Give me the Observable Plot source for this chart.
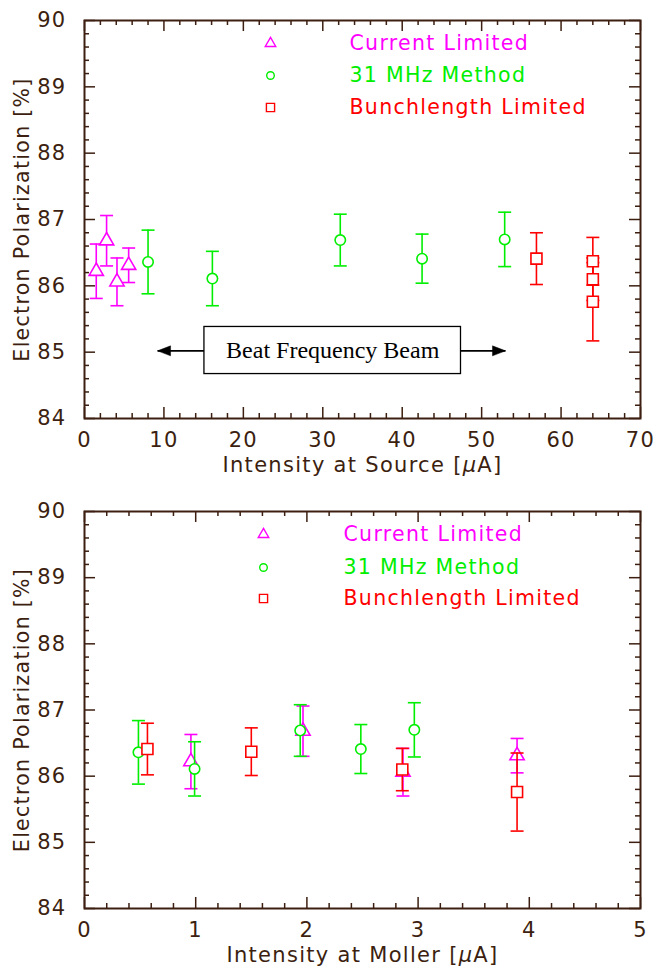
<!DOCTYPE html>
<html><head><meta charset="utf-8">
<script src="https://cdn.jsdelivr.net/npm/d3@7"></script>
<script src="https://cdn.jsdelivr.net/npm/@observablehq/plot@0.6"></script>
<style>
body{margin:0;background:#fff;}
#chart svg{display:block;overflow:visible;}
#chart svg text{letter-spacing:1.3px;}
</style></head><body><div id="chart"></div>
<script>
// ---- data ----
const yTicks = [84, 85, 86, 87, 88, 89, 90];
const yLabel = "Electron Polarization [%]";
const seriesNames = ["Current Limited", "31 MHz Method", "Bunchlength Limited"];

// top panel: intensity at source [µA]
const sourceTicks = [0, 10, 20, 30, 40, 50, 60, 70];
const sourceLabel = "Intensity at Source [µA]";
const currentSourceX = [1.48, 2.78, 4.09, 5.56];
const methodSourceX = [8.0, 16.1, 32.2, 42.5, 52.9];
const bunchSourceX = [56.9, 64.0, 64.0, 64.0];

// bottom panel: intensity at Moller [µA]
const mollerTicks = [0, 1, 2, 3, 4, 5];
const mollerLabel = "Intensity at Moller [µA]";
const currentMollerX = [0.957, 1.965, 2.864, 3.89];
const methodMollerX = [0.485, 0.99, 1.94, 2.485, 2.966];
const bunchMollerX = [0.566, 1.50, 2.858, 3.89];

// polarization values and errors (same measurements in both panels)
const currentPol = [86.22, 86.68, 86.06, 86.31];
const currentErr = [0.41, 0.38, 0.36, 0.26];
const methodPol = [86.36, 86.11, 86.69, 86.41, 86.70];
const methodErr = [0.48, 0.41, 0.39, 0.37, 0.41];
const bunchPol = [86.41, 86.37, 86.10, 85.76];
const bunchErr = [0.39, 0.36, 0.32, 0.59];

// annotation in the top panel
const beatText = ["Beat Frequency Beam"];
const beatBox = [{x1: 15.1, x2: 47.4, y1: 84.67, y2: 85.38}];
const beatArrows = [{from: 15.1, to: 9.2, y: 85.02}, {from: 47.4, to: 53.0, y: 85.02}];

// ---- styling ----
const ink = "#3c1f10";
const colors = ["#ff00ff", "#00ee00", "#ff0000"];
const symbols = ["triangle2", "circle", "square2"];
const markerR = [6.8, 5.2, 7.0];
const legendR = [5.0, 3.8, 5.2];
const font = "DejaVu Sans";

const cap = {draw(c) { c.moveTo(-6.5, 0); c.lineTo(6.5, 0); }};
const headRight = {draw(c) { c.moveTo(0, 0); c.lineTo(-13, -5); c.lineTo(-13, 5); c.closePath(); }};
const headLeft = {draw(c) { c.moveTo(0, 0); c.lineTo(13, -5); c.lineTo(13, 5); c.closePath(); }};

function seriesData(xs, ys, es) { return xs.map((x, i) => ({x, y: ys[i], e: es[i]})); }
function minorTicks(major, n) {
  const out = [];
  for (let i = 0; i < major.length - 1; i++) {
    const step = (major[i + 1] - major[i]) / (n + 1);
    for (let k = 1; k <= n; k++) out.push(major[i] + k * step);
  }
  return out;
}

function panel({xTicks, xLabel, xs, height, marginTop, marginBottom, legendSymDx, legendTextDx, legendDy, annotate}) {
  const marginLeft = 84, marginRight = 15, width = 655;
  const fw = width - marginLeft - marginRight;
  const fh = height - marginTop - marginBottom;
  const xMinor = minorTicks(xTicks, 4);
  const yMinor = minorTicks(yTicks, 4);
  const data = [
    seriesData(xs[0], currentPol, currentErr),
    seriesData(xs[1], methodPol, methodErr),
    seriesData(xs[2], bunchPol, bunchErr)
  ];
  const tickOpts = {stroke: ink, strokeWidth: 1.5};
  const marks = [
    Plot.tickX(xTicks, {x: d => d, insetTop: fh - 11, ...tickOpts}),
    Plot.tickX(xTicks, {x: d => d, insetBottom: fh - 11, ...tickOpts}),
    Plot.tickX(xMinor, {x: d => d, insetTop: fh - 5, ...tickOpts}),
    Plot.tickX(xMinor, {x: d => d, insetBottom: fh - 5, ...tickOpts}),
    Plot.tickY(yTicks, {y: d => d, insetRight: fw - 11, ...tickOpts}),
    Plot.tickY(yTicks, {y: d => d, insetLeft: fw - 11, ...tickOpts}),
    Plot.tickY(yMinor, {y: d => d, insetRight: fw - 5, ...tickOpts}),
    Plot.tickY(yMinor, {y: d => d, insetLeft: fw - 5, ...tickOpts}),
    Plot.axisX({ticks: xTicks, tickSize: 0, tickPadding: 14, label: null, fill: ink, fontSize: 21, tickFormat: d => String(d)}),
    Plot.axisY({ticks: yTicks, tickSize: 0, tickPadding: 18, label: null, fill: ink, fontSize: 21, tickFormat: d => String(d)}),
    Plot.text([xLabel], {frameAnchor: "bottom", dy: 47, text: d => d, fill: ink, fontSize: 21, textAnchor: "middle", lineAnchor: "middle"}),
    Plot.text([yLabel], {frameAnchor: "left", dx: -62, rotate: -90, text: d => d, fill: ink, fontSize: 20.5, textAnchor: "middle", lineAnchor: "middle"})
  ];
  if (annotate) {
    marks.push(
      Plot.link(beatArrows, {x1: "from", x2: "to", y1: "y", y2: "y", stroke: "black", strokeWidth: 1.6}),
      Plot.dot([beatArrows[0]], {x: "to", y: "y", symbol: headLeft, fill: "black", stroke: "black", strokeWidth: 0.5}),
      Plot.dot([beatArrows[1]], {x: "to", y: "y", symbol: headRight, fill: "black", stroke: "black", strokeWidth: 0.5}),
      Plot.rect(beatBox, {x1: "x1", x2: "x2", y1: "y1", y2: "y2", fill: "white", stroke: "black", strokeWidth: 1.3}),
      Plot.text(beatText, {x: () => (beatBox[0].x1 + beatBox[0].x2) / 2, y: () => (beatBox[0].y1 + beatBox[0].y2) / 2,
        text: d => d, fill: "black", fontSize: 24, fontFamily: "Liberation Serif", lineAnchor: "middle"})
    );
  }
  data.forEach((d, i) => {
    marks.push(
      Plot.ruleX(d, {x: "x", y1: v => v.y - v.e, y2: v => v.y + v.e, stroke: colors[i], strokeWidth: 1.6}),
      Plot.dot(d, {x: "x", y: v => v.y - v.e, symbol: cap, stroke: colors[i], strokeWidth: 1.6}),
      Plot.dot(d, {x: "x", y: v => v.y + v.e, symbol: cap, stroke: colors[i], strokeWidth: 1.6}),
      Plot.dot(d, {x: "x", y: "y", symbol: symbols[i], r: markerR[i], stroke: colors[i], fill: "white", strokeWidth: 1.6})
    );
  });
  seriesNames.forEach((name, i) => {
    marks.push(
      Plot.dot([name], {frameAnchor: "top-left", dx: legendSymDx, dy: legendDy[i], symbol: symbols[i], r: legendR[i], stroke: colors[i], strokeWidth: 1.4}),
      Plot.text([name], {frameAnchor: "top-left", dx: legendTextDx, dy: legendDy[i], text: d => d, fill: colors[i], fontSize: 20.5, textAnchor: "start", lineAnchor: "middle"})
    );
  });
  marks.push(Plot.frame({stroke: ink, strokeWidth: 2}));
  return Plot.plot({
    width, height, marginLeft, marginRight, marginTop, marginBottom,
    x: {domain: [xTicks[0], xTicks[xTicks.length - 1]], axis: null},
    y: {domain: [yTicks[0], yTicks[yTicks.length - 1]], axis: null},
    style: {fontFamily: font, background: "white"},
    marks
  });
}

const topPanel = panel({xTicks: sourceTicks, xLabel: sourceLabel, xs: [currentSourceX, methodSourceX, bunchSourceX],
  height: 485, marginTop: 20, marginBottom: 67, legendSymDx: 186, legendTextDx: 265, legendDy: [23, 55, 87], annotate: true});
const bottomPanel = panel({xTicks: mollerTicks, xLabel: mollerLabel, xs: [currentMollerX, methodMollerX, bunchMollerX],
  height: 484, marginTop: 26, marginBottom: 61, legendSymDx: 179, legendTextDx: 259, legendDy: [23, 56, 87], annotate: false});
document.getElementById("chart").append(topPanel, bottomPanel);

// italic mu in the axis titles, no extra spacing on the serif annotation
d3.selectAll("#chart svg text").each(function() {
  const t = this.textContent;
  if (t.includes("µ")) {
    const [a, b] = t.split("µ");
    const sel = d3.select(this);
    sel.text(null);
    sel.append("tspan").text(a);
    sel.append("tspan").attr("font-style", "italic").text("µ");
    sel.append("tspan").text(b);
  }
  if (t === beatText[0]) d3.select(this).style("letter-spacing", "0px");
});
</script></body></html>
